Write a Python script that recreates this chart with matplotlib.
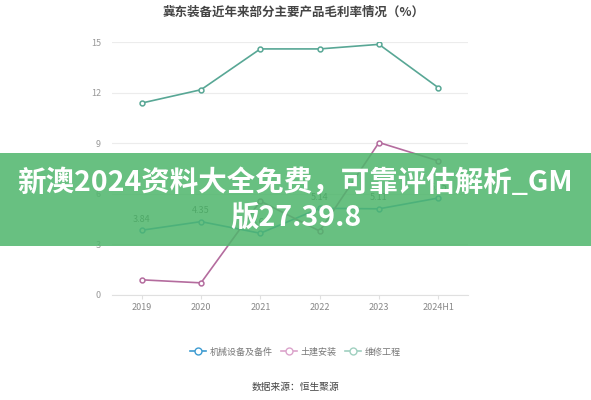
import matplotlib.pyplot as plt
from matplotlib.lines import Line2D
from matplotlib.patches import Rectangle

plt.rcParams['font.family'] = ['Noto Sans CJK SC', 'DejaVu Sans']

anos = ['2019', '2020', '2021', '2022', '2023', '2024H1']
maquinas = [3.84, 4.35, 3.66, 5.14, 5.11, 5.75]
construcao = [0.90, 0.72, 5.57, 3.79, 9.04, 7.95]
manutencao = [11.38, 12.17, 14.59, 14.59, 14.86, 12.29]
rotulos_maquinas = ['3.84', '4.35', '3.66', '5.14', '5.11', '5.75']

nomes = ['机械设备及备件', '土建安装', '维修工程']
cores_linha = ['#3f96cf', '#b46c9e', '#58a795']
cores_legenda = ['#3d9bd1', '#dba3cb', '#a0d0c0']

fig = plt.figure(figsize=(5.91, 4.0), dpi=100)
ax = fig.add_axes([112 / 591, 1 - 295 / 400, 356 / 591, 253 / 400])

x = list(range(len(anos)))
for serie, cor in zip([maquinas, construcao, manutencao], cores_linha):
    ax.plot(x, serie, color=cor, linewidth=1.2, marker='o', markersize=3.5,
            markerfacecolor='white', markeredgecolor=cor, markeredgewidth=1.1, zorder=3)

for xi, yi, txt in zip(x, maquinas, rotulos_maquinas):
    ax.annotate(txt, (xi, yi), textcoords='offset points', xytext=(0, 6),
                ha='center', fontsize=6.5, color='#555555')

ax.set_xlim(-0.5, 5.5)
ax.set_ylim(0, 15)
ax.set_yticks([0, 3, 6, 9, 12, 15])
ax.set_xticks(x)
ax.set_xticklabels(anos)
ax.tick_params(axis='y', length=0, labelsize=6.5, colors='#999999', pad=8)
ax.tick_params(axis='x', length=3, color='#e0e0e0', labelsize=6.5, labelcolor='#888888', pad=3)
ax.grid(axis='y', color='#ececec', linewidth=0.8)
ax.set_axisbelow(True)
for lado in ['top', 'right', 'left']:
    ax.spines[lado].set_visible(False)
ax.spines['bottom'].set_color('#e0e0e0')

fig.text(0.497, 1 - 12 / 400, '冀东装备近年来部分主要产品毛利率情况（%）', ha='center', va='center',
         fontsize=9, fontweight='bold', color='#444444')

handles = [Line2D([0], [0], color=c, linewidth=1.2, marker='o', markersize=5,
                  markerfacecolor='white', markeredgecolor=c) for c in cores_legenda]
fig.legend(handles, nomes, loc='center', bbox_to_anchor=(0.5, 1 - 352 / 400), ncol=3,
           frameon=False, fontsize=6.5, labelcolor='#777777', handlelength=1.8,
           columnspacing=0.9, handletextpad=0.4)

fig.text(0.5, 1 - 387 / 400, '数据来源：恒生聚源', ha='center', va='center',
         fontsize=7, color='#444444')

# faixa verde por cima
fig.patches.append(Rectangle((0, 1 - 246 / 400), 1, 93 / 400, transform=fig.transFigure,
                             facecolor='#4fb66c', alpha=0.86, edgecolor='none', zorder=10))
fig.text(0.5, 1 - 183 / 400, '新澳2024资料大全免费，可靠评估解析_GM', ha='center', va='center',
         fontsize=20.5, fontweight='bold', color='white', zorder=11)
fig.text(0.5, 1 - 218 / 400, '版27.39.8', ha='center', va='center',
         fontsize=20.5, fontweight='bold', color='white', zorder=11)

fig.savefig('out.png', dpi=100)
